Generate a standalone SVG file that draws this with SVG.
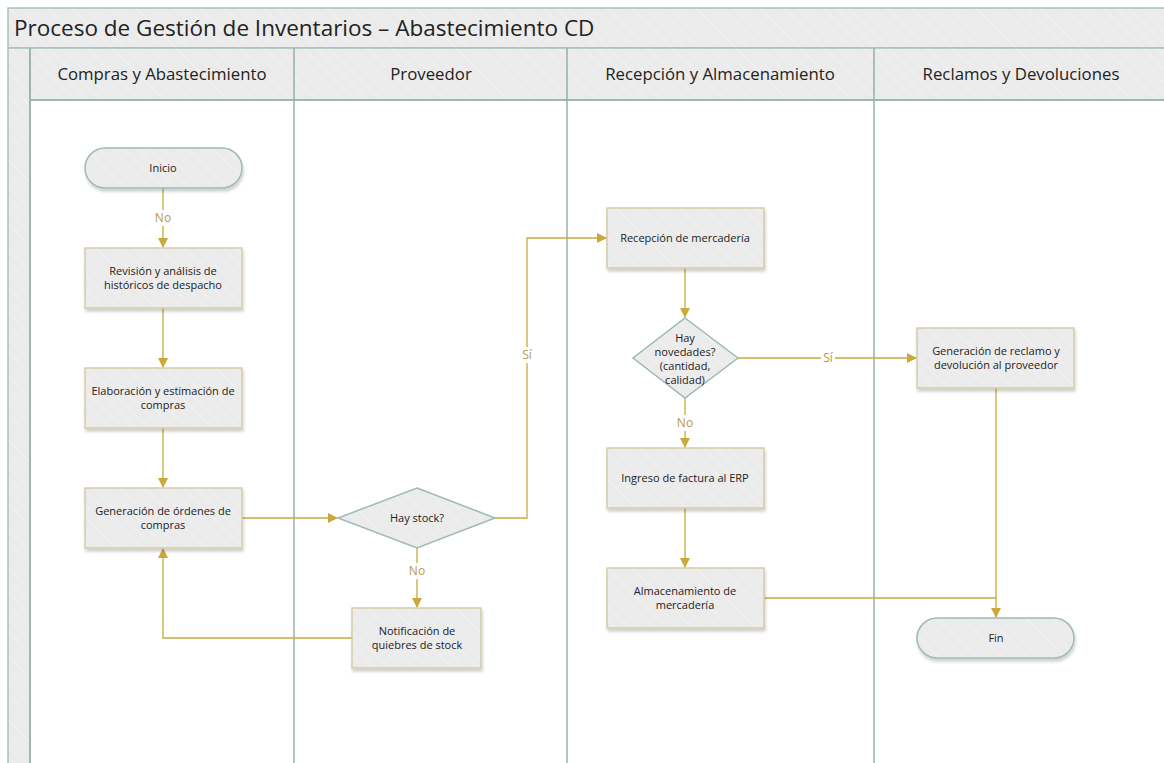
<svg xmlns="http://www.w3.org/2000/svg" width="1164" height="763" viewBox="0 0 1164 763">
<defs>
<pattern id="hatch" width="9" height="9" patternUnits="userSpaceOnUse" patternTransform="rotate(-45)">
<rect width="9" height="9" fill="#ebebeb"/>
<line x1="0" y1="0" x2="0" y2="9" stroke="#f3f3f3" stroke-width="1.5"/>
</pattern>
<filter id="sh" x="-10%" y="-10%" width="125%" height="135%">
<feDropShadow dx="1" dy="3" stdDeviation="1.5" flood-color="#000" flood-opacity="0.18"/>
</filter>
<marker id="arr" markerWidth="10" markerHeight="10" refX="9" refY="5" orient="auto" markerUnits="userSpaceOnUse">
<path d="M0,0 L10,5 L0,10 Z" fill="#c9a93c"/>
</marker>
</defs>
<style>
.pool{fill:url(#hatch);stroke:#a9c1ba;stroke-width:1.5}
.lane{fill:none;stroke:#95b1a8;stroke-width:1.5}
.title{font-family:"Open Sans","Noto Sans",sans-serif;font-size:22.5px;fill:#222}
.hdr{font-family:"Open Sans","Noto Sans",sans-serif;font-size:16.8px;fill:#222;text-anchor:middle}
.box{fill:url(#hatch);stroke:#d5cba6;stroke-width:1.5;filter:url(#sh)}
.term{fill:url(#hatch);stroke:#9fbab2;stroke-width:1.5;filter:url(#sh)}
.dia{fill:url(#hatch);stroke:#9fbab2;stroke-width:1.5}
.t{font-family:"Open Sans","Noto Sans",sans-serif;font-size:11px;fill:#222;text-anchor:middle}
.c{fill:none;stroke:#c9a93c;stroke-width:1.3}
.lbl{font-family:"Open Sans","Noto Sans",sans-serif;font-size:12px;fill:#b89a3c;text-anchor:middle}
.lblbg{fill:#ffffff}
</style>
<rect width="1164" height="763" fill="#ffffff"/>
<g id="pool">
<rect class="pool" x="8" y="8" width="1170" height="40"/>
<text class="title" x="14" y="36">Proceso de Gestión de Inventarios – Abastecimiento CD</text>
<rect class="pool" x="8" y="48" width="22" height="720"/>
<rect class="pool" x="30" y="48" width="1150" height="52"/>
<line class="lane" x1="30" y1="48" x2="30" y2="763"/>
<line class="lane" x1="294" y1="48" x2="294" y2="763"/>
<line class="lane" x1="567" y1="48" x2="567" y2="763"/>
<line class="lane" x1="874" y1="48" x2="874" y2="763"/>
<line class="lane" x1="30" y1="100" x2="1164" y2="100"/>
<text class="hdr" x="162" y="80">Compras y Abastecimiento</text>
<text class="hdr" x="431" y="80">Proveedor</text>
<text class="hdr" x="720" y="80">Recepción y Almacenamiento</text>
<text class="hdr" x="1021" y="80">Reclamos y Devoluciones</text>
</g>
<g id="connectors">
<path class="c" d="M163,188 V247" marker-end="url(#arr)"/>
<path class="c" d="M163,308 V367" marker-end="url(#arr)"/>
<path class="c" d="M163,428 V487" marker-end="url(#arr)"/>
<path class="c" d="M242,518 H337" marker-end="url(#arr)"/>
<path class="c" d="M495,518 H527 V238 H606" marker-end="url(#arr)"/>
<path class="c" d="M417,548 V607" marker-end="url(#arr)"/>
<path class="c" d="M352,638 H163 V549" marker-end="url(#arr)"/>
<path class="c" d="M685,268 V317" marker-end="url(#arr)"/>
<path class="c" d="M738,358 H916" marker-end="url(#arr)"/>
<path class="c" d="M685,398 V447" marker-end="url(#arr)"/>
<path class="c" d="M685,508 V567" marker-end="url(#arr)"/>
<path class="c" d="M764,598 H996"/>
<path class="c" d="M996,388 V617" marker-end="url(#arr)"/>
<rect class="lblbg" x="152" y="210" width="22" height="16"/>
<text class="lbl" x="163" y="222">No</text>
<rect class="lblbg" x="406" y="563" width="22" height="16"/>
<text class="lbl" x="417" y="575">No</text>
<rect class="lblbg" x="674" y="415" width="22" height="16"/>
<text class="lbl" x="685" y="427">No</text>
<rect class="lblbg" x="520" y="347" width="14" height="16"/>
<text class="lbl" x="527" y="359">Sí</text>
<rect class="lblbg" x="821" y="350" width="14" height="16"/>
<text class="lbl" x="828" y="362">Sí</text>
</g>
<g id="inicio">
<rect class="term" x="85" y="148" width="157" height="40" rx="20"/>
<text class="t" x="163" y="172">Inicio</text>
</g>
<g id="revision">
<rect class="box" x="85" y="248" width="157" height="60"/>
<text class="t" x="163" y="275">Revisión y análisis de</text>
<text class="t" x="163" y="289">históricos de despacho</text>
</g>
<g id="elaboracion">
<rect class="box" x="85" y="368" width="157" height="60"/>
<text class="t" x="163" y="395">Elaboración y estimación de</text>
<text class="t" x="163" y="409">compras</text>
</g>
<g id="generacion">
<rect class="box" x="85" y="488" width="157" height="60"/>
<text class="t" x="163" y="515">Generación de órdenes de</text>
<text class="t" x="163" y="529">compras</text>
</g>
<g id="haystock">
<path class="dia" d="M417,488 L495,518 L417,548 L338,518 Z"/>
<text class="t" x="417" y="522">Hay stock?</text>
</g>
<g id="notificacion">
<rect class="box" x="352" y="608" width="129" height="60"/>
<text class="t" x="417" y="635">Notificación de</text>
<text class="t" x="417" y="649">quiebres de stock</text>
</g>
<g id="recepcion">
<rect class="box" x="607" y="208" width="157" height="60"/>
<text class="t" x="685" y="242">Recepción de mercadería</text>
</g>
<g id="novedades">
<path class="dia" d="M685,318 L738,358 L685,398 L633,358 Z"/>
<text class="t" x="685" y="342">Hay</text>
<text class="t" x="685" y="356">novedades?</text>
<text class="t" x="685" y="370">(cantidad,</text>
<text class="t" x="685" y="384">calidad)</text>
</g>
<g id="ingreso">
<rect class="box" x="607" y="448" width="157" height="60"/>
<text class="t" x="685" y="482">Ingreso de factura al ERP</text>
</g>
<g id="almacenamiento">
<rect class="box" x="607" y="568" width="157" height="60"/>
<text class="t" x="685" y="595">Almacenamiento de</text>
<text class="t" x="685" y="609">mercadería</text>
</g>
<g id="reclamo">
<rect class="box" x="917" y="328" width="157" height="60"/>
<text class="t" x="996" y="355">Generación de reclamo y</text>
<text class="t" x="996" y="369">devolución al proveedor</text>
</g>
<g id="fin">
<rect class="term" x="917" y="618" width="157" height="40" rx="20"/>
<text class="t" x="996" y="642">Fin</text>
</g>
</svg>
